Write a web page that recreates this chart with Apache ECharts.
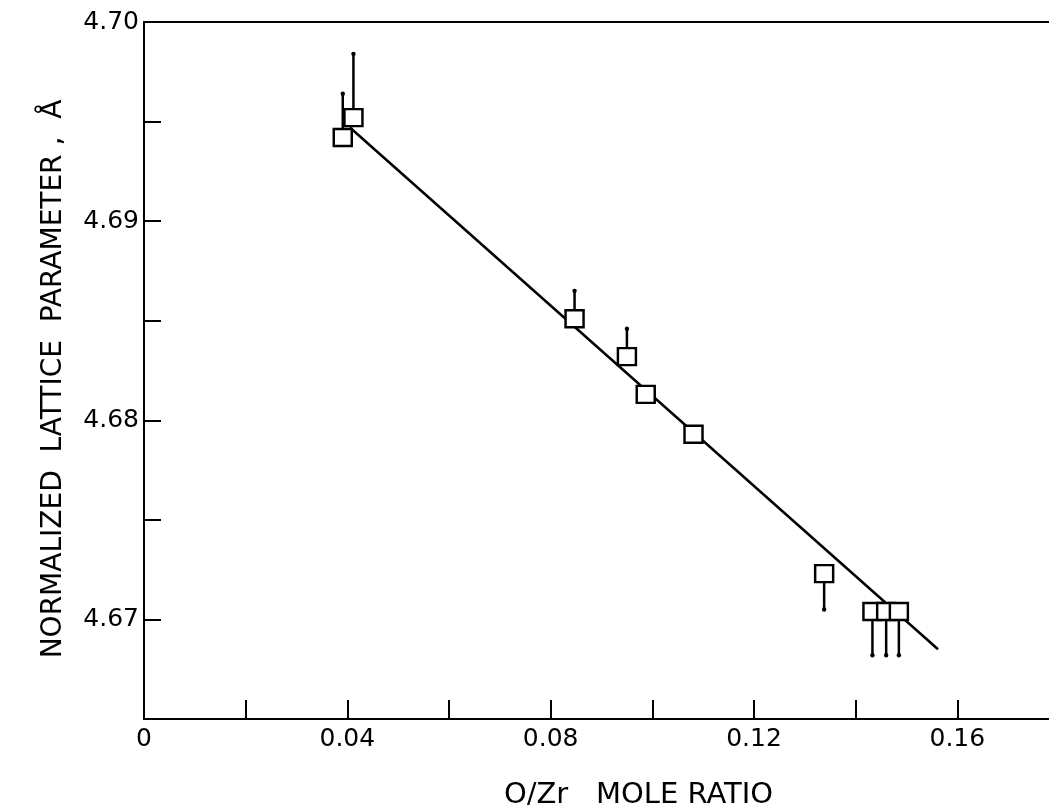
<!DOCTYPE html>
<html>
<head>
<meta charset="utf-8">
<script src="https://cdn.jsdelivr.net/npm/echarts@6/dist/echarts.min.js"></script>
<style>
  html, body { margin: 0; padding: 0; background: #fff; }
  #chart { width: 1049px; height: 805px; }
</style>
</head>
<body>
<div id="chart"></div>
<script>
// O/Zr mole ratio of each sample
const ratio   = [0.0391, 0.0412, 0.0847, 0.0950, 0.0987, 0.1081, 0.1338, 0.1433, 0.1460, 0.1485];
// normalized lattice parameter (Å)
const lattice = [4.6942, 4.6952, 4.6851, 4.6832, 4.6813, 4.6793, 4.6723, 4.6704, 4.6704, 4.6704];
// far end of each one-sided error bar (null = no bar)
const errEnd  = [4.6964, 4.6984, 4.6865, 4.6846, null, null, 4.6705, 4.6682, 4.6682, 4.6682];
// least-squares line end points
const fitX = [0.0405, 0.1562];
const fitY = [4.6947, 4.6685];
// labelled ticks
const xLabels = ['0', '0.04', '0.08', '0.12', '0.16'];
const yLabels = ['4.67', '4.68', '4.69', '4.70'];

const points = ratio.map((x, i) => [x, lattice[i]]);
const bars = ratio.map((x, i) => [x, lattice[i], errEnd[i]]).filter(d => d[2] != null);
const fitLine = fitX.map((x, i) => [x, fitY[i]]);

const font = '"DejaVu Sans", sans-serif';
const chart = echarts.init(document.getElementById('chart'), null, { renderer: 'canvas' });

chart.setOption({
  backgroundColor: '#fff',
  animation: false,
  grid: {
    // the frame runs past the right edge of the page
    left: 144, top: 22, width: 915, bottom: 86,
    outerBoundsMode: 'none', containLabel: false,
    show: true, borderColor: '#000', borderWidth: 2, backgroundColor: 'transparent'
  },
  xAxis: {
    type: 'value', min: 0, max: 0.18, interval: 0.02,
    name: 'O/Zr   MOLE RATIO',
    nameLocation: 'middle', nameGap: 62,
    nameTextStyle: { fontFamily: font, fontSize: 29, color: '#000', padding: [0, 0, 0, 74] },
    axisLine: { show: true, lineStyle: { color: '#000', width: 2 } },
    axisTick: { show: true, inside: true, length: 19, lineStyle: { color: '#000', width: 2 } },
    splitLine: { show: false },
    axisLabel: {
      fontFamily: font, fontSize: 25, color: '#000', margin: 8,
      formatter: v => {
        const s = v === 0 ? '0' : v.toFixed(2);
        return xLabels.includes(s) ? s : '';
      }
    }
  },
  yAxis: {
    type: 'value', min: 4.665, max: 4.70, interval: 0.005,
    name: 'NORMALIZED  LATTICE  PARAMETER ,  Å',
    nameLocation: 'middle', nameGap: 76, nameRotate: 90,
    nameTextStyle: { fontFamily: font, fontSize: 28, color: '#000', padding: [0, 17, 0, 0] },
    axisLine: { show: true, lineStyle: { color: '#000', width: 2 } },
    axisTick: { show: true, inside: true, length: 17, lineStyle: { color: '#000', width: 2 } },
    splitLine: { show: false },
    axisLabel: {
      fontFamily: font, fontSize: 25, color: '#000', margin: 5,
      formatter: v => {
        const s = v.toFixed(2);
        return (yLabels.includes(s) && Math.abs(v - parseFloat(s)) < 1e-6) ? s : '';
      }
    }
  },
  series: [
    {
      type: 'line', data: fitLine, symbol: 'none', z: 2,
      lineStyle: { color: '#000', width: 2.5 }
    },
    {
      type: 'custom', data: bars, z: 3,
      renderItem: (params, api) => {
        const p0 = api.coord([api.value(0), api.value(1)]);
        const p1 = api.coord([api.value(0), api.value(2)]);
        return {
          type: 'group',
          children: [
            { type: 'line', shape: { x1: p0[0], y1: p0[1], x2: p1[0], y2: p1[1] }, style: { stroke: '#000', lineWidth: 2.5 } },
            { type: 'circle', shape: { cx: p1[0], cy: p1[1], r: 2.2 }, style: { fill: '#000' } }
          ]
        };
      }
    },
    {
      type: 'scatter', data: points, z: 4,
      symbol: 'rect', symbolSize: [18, 17],
      itemStyle: { color: '#fff', borderColor: '#000', borderWidth: 2.4, opacity: 1 }
    }
  ]
});
</script>
</body>
</html>
